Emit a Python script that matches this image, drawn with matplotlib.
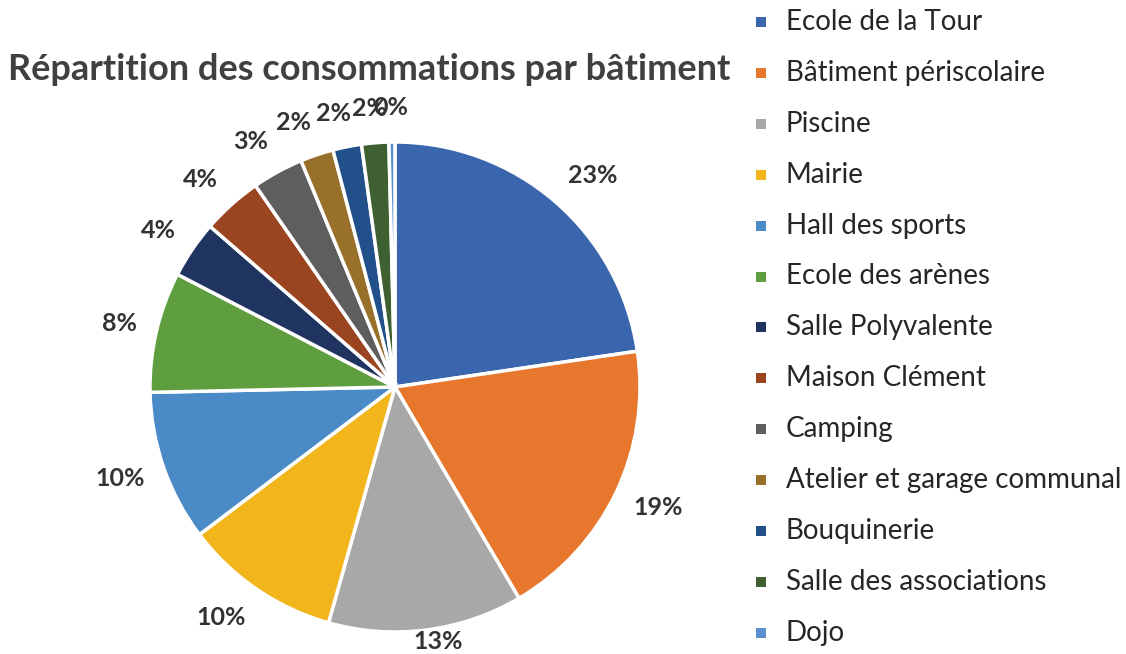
import numpy as np
import matplotlib
matplotlib.use("Agg")
import matplotlib.pyplot as plt
from matplotlib.patches import Rectangle

plt.rcParams['font.family'] = ['Lato', 'DejaVu Sans']

categories = ["Ecole de la Tour", "Bâtiment périscolaire", "Piscine", "Mairie",
              "Hall des sports", "Ecole des arènes", "Salle Polyvalente",
              "Maison Clément", "Camping", "Atelier et garage communal",
              "Bouquinerie", "Salle des associations", "Dojo"]
values = [22.8, 19.0, 12.9, 10.4, 10.0, 8.0, 3.8, 4.0, 3.4, 2.2, 1.9, 1.8, 0.4]
colors = ["#3a66ad", "#e8772e", "#a8a8a8", "#f2b51c", "#4a8ac6", "#5f9e3f",
          "#1f3460", "#9a4520", "#5e5e5e", "#98702a", "#21508a", "#3f6030",
          "#5b8fd0"]
title = "Répartition des consommations par bâtiment"

W, H = 1126, 654
cx, cy, R = 395, 387, 245

fig = plt.figure(figsize=(W / 100, H / 100), dpi=100)
ax = fig.add_axes([0, 0, 1, 1])

wedges, _ = ax.pie(values, colors=colors, startangle=90, counterclock=False,
                   radius=1.0, wedgeprops=dict(edgecolor='white', linewidth=2.5))
ax.set_xlim(-cx / R, (W - cx) / R)
ax.set_ylim(-(H - cy) / R, cy / R)
ax.set_aspect('equal')
ax.axis('off')

fig.canvas.draw()
renderer = fig.canvas.get_renderer()
total = sum(values)
for w, v in zip(wedges, values):
    ang = np.deg2rad((w.theta1 + w.theta2) / 2)
    c, s = np.cos(ang), np.sin(ang)
    t = ax.text(0, 0, f"{round(100 * v / total):.0f}%", ha='center', va='center',
                fontsize=18, fontweight='bold', color='#333333')
    bb = t.get_window_extent(renderer)
    hw = bb.width / 2 / R
    hh = 0.06
    x = 1.08 * c + hw * np.clip(3 * c, -1, 1)
    y = 1.08 * s + hh * s
    y = max(y, -1.04)
    t.set_position((x, y))

fig.text(369 / W, 1 - 70 / H, title, ha='center', va='center', fontsize=26,
         fontweight='bold', color='#404040')

y0, dy = 22, 50.9
for i, (cat, col) in enumerate(zip(categories, colors)):
    yy = 1 - (y0 + i * dy) / H
    fig.patches.append(Rectangle((756 / W, yy - 5 / H), 10 / W, 10 / H,
                                 transform=fig.transFigure, facecolor=col,
                                 edgecolor='none'))
    fig.text(786 / W, yy, cat, ha='left', va='center', fontsize=20,
             color='#262626')

fig.savefig("out.png", dpi=100)
